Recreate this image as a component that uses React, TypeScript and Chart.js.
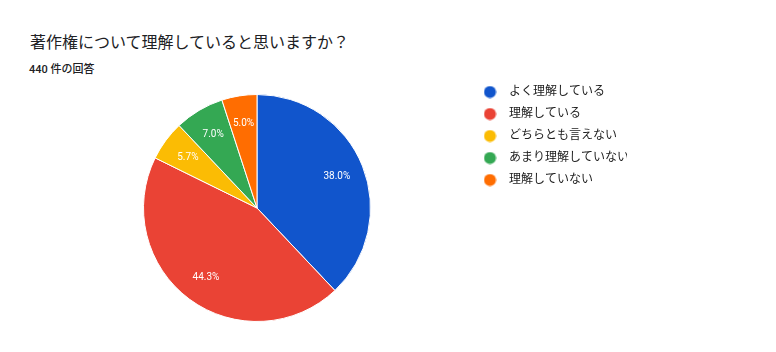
import React, { useEffect, useRef } from "react";
import { Chart, registerables } from "chart.js";

Chart.register(...registerables);

const titleText = "著作権について理解していると思いますか？";
const subtitleText = "440 件の回答";
const categories = [
  "よく理解している",
  "理解している",
  "どちらとも言えない",
  "あまり理解していない",
  "理解していない",
];
const responseCounts = [167, 195, 25, 31, 22];
const sliceColors = ["#1155cc", "#ea4335", "#fbbc04", "#34a853", "#ff6d01"];

const FONT = "Roboto, 'Noto Sans CJK JP', sans-serif";

function makeDot(color: string): HTMLCanvasElement {
  const c = document.createElement("canvas");
  c.width = 13;
  c.height = 13;
  const ctx = c.getContext("2d")!;
  ctx.fillStyle = color;
  ctx.beginPath();
  ctx.arc(6.5, 6.5, 6, 0, Math.PI * 2);
  ctx.fill();
  return c;
}

const pieLabels = {
  id: "pieLabels",
  afterDatasetsDraw(chart: any) {
    const ctx = chart.ctx;
    const meta = chart.getDatasetMeta(0);
    const data = chart.data.datasets[0].data as number[];
    const total = data.reduce((a, b) => a + b, 0);
    ctx.save();
    ctx.fillStyle = "#ffffff";
    ctx.font = "10px Roboto, 'Liberation Sans', Arial, sans-serif";
    ctx.textAlign = "center";
    ctx.textBaseline = "middle";
    meta.data.forEach((arc: any, i: number) => {
      const { x, y, startAngle, endAngle, outerRadius } = arc.getProps(
        ["x", "y", "startAngle", "endAngle", "outerRadius"],
        true
      );
      const mid = (startAngle + endAngle) / 2;
      const r = outerRadius * 0.757;
      const txt = ((data[i] / total) * 100).toFixed(1) + "%";
      ctx.fillText(txt, x + Math.cos(mid) * r, y + Math.sin(mid) * r);
    });
    ctx.restore();
  },
};

export default function App() {
  const ref = useRef<HTMLCanvasElement>(null);
  useEffect(() => {
    const dots = sliceColors.map(makeDot);
    const chart = new Chart(ref.current!, {
      type: "pie",
      data: {
        labels: categories,
        datasets: [
          {
            data: responseCounts,
            backgroundColor: sliceColors,
            borderColor: "#ffffff",
            borderWidth: 1,
            radius: 113.5,
          } as any,
        ],
      },
      options: {
        responsive: false,
        animation: false,
        events: [],
        layout: { padding: { left: 47, right: 149, top: 76, bottom: 12 } },
        plugins: {
          tooltip: { enabled: false },
          title: { display: false },
          legend: {
            display: true,
            position: "right",
            align: "start",
            maxWidth: 160,
            labels: {
              usePointStyle: true,
              pointStyleWidth: 26,
              padding: 10,
              color: "#212121",
              font: { size: 12, family: FONT },
              generateLabels: (chart: any) =>
                chart.data.labels.map((t: string, i: number) => ({
                  text: t,
                  fillStyle: sliceColors[i],
                  strokeStyle: sliceColors[i],
                  lineWidth: 0,
                  pointStyle: dots[i],
                  hidden: false,
                  index: i,
                  fontColor: "#212121",
                })),
            },
          },
        },
      },
      plugins: [pieLabels],
    });
    return () => chart.destroy();
  }, []);

  return (
    <div
      style={{
        position: "fixed",
        left: 0,
        top: 0,
        width: 776,
        height: 352,
        background: "#ffffff",
        fontFamily: FONT,
      }}
    >
      <div
        style={{
          position: "absolute",
          left: 30,
          top: 33,
          fontSize: 16,
          lineHeight: "20px",
          color: "#202124",
          whiteSpace: "nowrap",
        }}
      >
        {titleText}
      </div>
      <div
        style={{
          position: "absolute",
          left: 29,
          top: 63,
          fontSize: 11,
          lineHeight: "14px",
          fontWeight: 500,
          color: "#202124",
          whiteSpace: "nowrap",
        }}
      >
        {subtitleText}
      </div>
      <canvas
        ref={ref}
        width={776}
        height={352}
        style={{ position: "absolute", left: 0, top: 0, width: 776, height: 352 }}
      />
    </div>
  );
}
